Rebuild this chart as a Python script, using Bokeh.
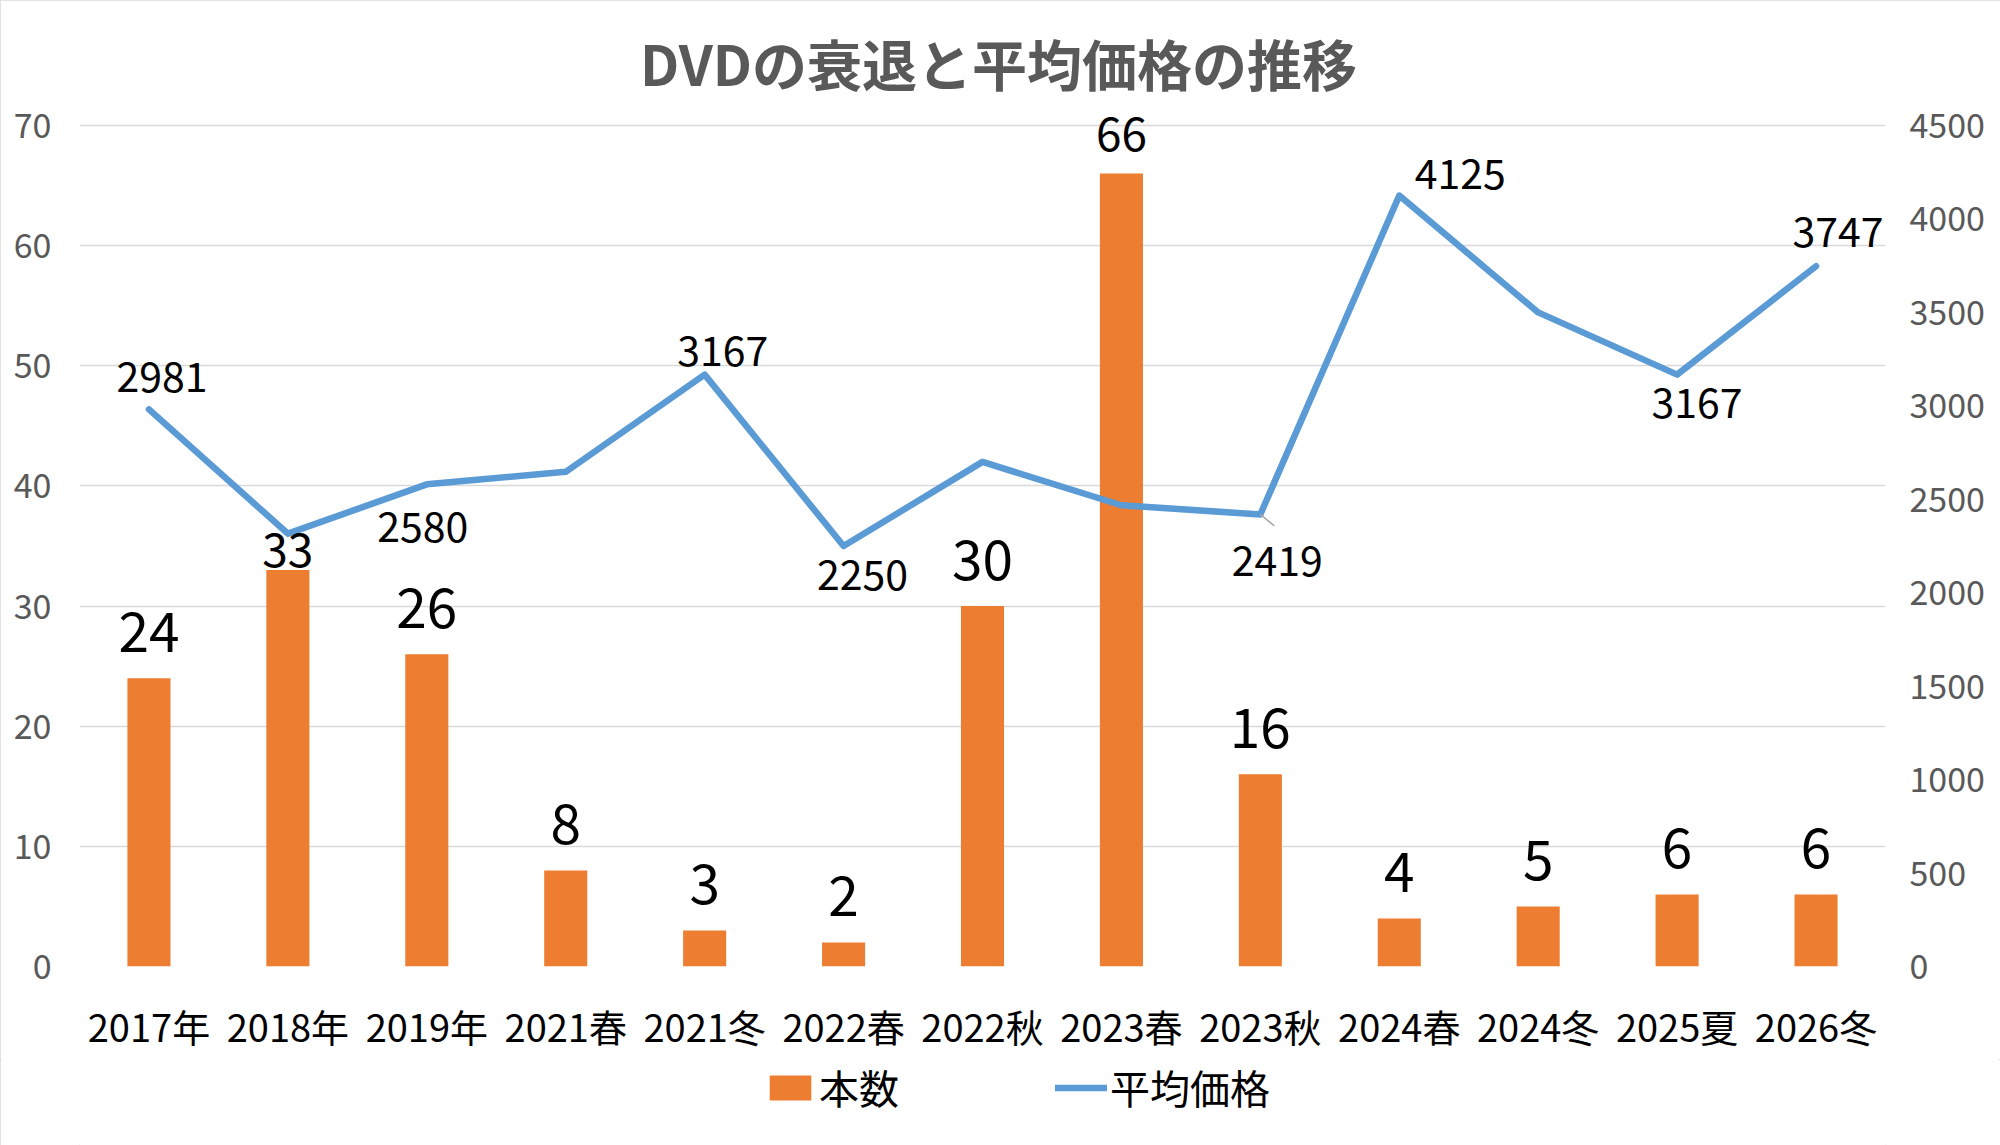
from bokeh.plotting import figure
from bokeh.layouts import column
from bokeh.models import (Range1d, LinearAxis, FactorRange, ColumnDataSource, LabelSet,
                          Legend, LegendItem, FixedTicker)
from bokeh.transform import dodge
from bokeh.core.properties import value
from bokeh.embed import file_html
from bokeh.resources import INLINE

# ---- data ----
categories = ["2017年", "2018年", "2019年", "2021春", "2021冬", "2022春", "2022秋",
              "2023春", "2023秋", "2024春", "2024冬", "2025夏", "2026冬"]
counts = [24, 33, 26, 8, 3, 2, 30, 66, 16, 4, 5, 6, 6]
prices = [2981, 2316, 2580, 2647, 3167, 2250, 2700, 2468, 2419, 4125, 3500, 3167, 3747]
left_ticks = [0, 10, 20, 30, 40, 50, 60, 70]
right_ticks = [0, 500, 1000, 1500, 2000, 2500, 3000, 3500, 4000, 4500]
left_max, right_max = 70, 4500
title_text = "DVDの衰退と平均価格の推移"
series_names = ["本数", "平均価格"]
# price points that carry a data label
price_labelled = ["2017年", "2019年", "2021冬", "2022春", "2023秋", "2024春", "2025夏", "2026冬"]

# ---- label styling (pixel offsets) ----
bar_label_dy = {"2018年": 20, "2023春": 40}
bar_label_size = {"2018年": "46px", "2023春": "46px"}
price_label_dx = {"2017年": 13, "2019年": -4, "2021冬": 18, "2022春": 19, "2023秋": 17,
                  "2024春": 61, "2025夏": 20, "2026冬": 22}
price_label_dy = {"2017年": 32, "2019年": -43, "2021冬": 24, "2022春": -29, "2023秋": -47,
                  "2024春": 22, "2025夏": -28, "2026冬": 34}

FONT = "Noto Sans CJK JP"
ORANGE = "#ED7D31"
BLUE = "#5B9BD5"
GRAY = "#595959"

# geometry: value axis 0..70 spans 841 px; frame extended 105 px above the top gridline
# so that the title and the tallest label are not clipped
head = 1.0 + 105.0 / 841.0
p = figure(width=2000, height=1059,
           x_range=FactorRange(factors=categories, range_padding=0),
           y_range=Range1d(0, left_max * head),
           output_backend="svg", toolbar_location=None,
           min_border_left=79, min_border_right=115, min_border_top=20, min_border_bottom=93)
p.extra_y_ranges = {"price": Range1d(0, right_max * head)}
p.outline_line_color = None
p.background_fill_color = "white"
p.border_fill_color = "white"

p.xgrid.grid_line_color = None
p.ygrid.grid_line_color = "#D9D9D9"
p.ygrid.grid_line_width = 1.5


def style_axis(ax, standoff, size, color):
    ax.axis_line_color = None
    ax.major_tick_line_color = None
    ax.minor_tick_line_color = None
    ax.major_tick_out = 0
    ax.major_tick_in = 0
    ax.minor_tick_out = 0
    ax.minor_tick_in = 0
    ax.major_label_standoff = standoff
    ax.major_label_text_font = FONT
    ax.major_label_text_font_size = size
    ax.major_label_text_color = color


la = p.yaxis[0]
la.ticker = FixedTicker(ticks=left_ticks)
style_axis(la, 28, "34px", GRAY)

ra = LinearAxis(y_range_name="price", ticker=FixedTicker(ticks=right_ticks))
style_axis(ra, 24, "34px", GRAY)
p.add_layout(ra, "right")

style_axis(p.xaxis[0], 31, "38px", "#000000")

src = ColumnDataSource(dict(
    cat=categories,
    count=counts,
    price=prices,
    count_txt=[str(c) for c in counts],
    bar_dy=[bar_label_dy.get(c, 46) for c in categories],
    bar_size=[bar_label_size.get(c, "55px") for c in categories],
))

bar_style = dict(fill_color=ORANGE, line_color=None)
line_style = dict(line_color=BLUE, line_width=6.5, line_join="round", line_cap="round")

p.vbar(x="cat", top="count", width=0.31, source=src, **bar_style)
p.line(x="cat", y="price", source=src, y_range_name="price", **line_style)

p.add_layout(LabelSet(x="cat", y="count", text="count_txt", source=src,
                      y_offset="bar_dy", text_align="center", text_baseline="middle",
                      text_font=value(FONT), text_font_size="bar_size", text_color="#000000"))

idx = [categories.index(c) for c in price_labelled]
lsrc = ColumnDataSource(dict(
    cat=price_labelled,
    price=[prices[i] for i in idx],
    txt=[str(prices[i]) for i in idx],
    dx=[price_label_dx[c] for c in price_labelled],
    dy=[price_label_dy[c] for c in price_labelled],
))
p.add_layout(LabelSet(x="cat", y="price", text="txt", source=lsrc, y_range_name="price",
                      x_offset="dx", y_offset="dy", text_align="center", text_baseline="middle",
                      text_font=value(FONT), text_font_size="41px", text_color="#000000"))

# small leader line for the 2419 label
ksrc = ColumnDataSource(dict(cat=["2023秋"], price=[prices[categories.index("2023秋")]]))
p.segment(x0="cat", y0="price", x1=dodge("cat", 0.1, range=p.x_range), y1=dodge("price", -61),
          source=ksrc, y_range_name="price", line_color="#A6A6A6", line_width=1.5)

# title (inside the extended head room of the frame)
tsrc = ColumnDataSource(dict(cat=[categories[6]], y=[left_max], txt=[title_text]))
p.add_layout(LabelSet(x="cat", y="y", text="txt", source=tsrc, x_offset=16, y_offset=64,
                      text_align="center", text_baseline="middle", text_font=value(FONT),
                      text_font_size="55px", text_font_style="bold", text_color=GRAY))

# ---- legend strip below the chart (swatch renderers sit outside its visible range) ----
lp = figure(width=2000, height=86, output_backend="svg", toolbar_location=None,
            x_axis_type=None, y_axis_type=None, min_border=0,
            x_range=FactorRange(factors=categories, range_padding=0),
            y_range=Range1d(100000, 100001))
lp.outline_line_color = None
lp.background_fill_color = "white"
lp.border_fill_color = "white"
lbar = lp.vbar(x=categories, top=counts, width=0.31, **bar_style)
lline = lp.line(x=categories, y=prices, **line_style)
legend = Legend(items=[LegendItem(label=series_names[0], renderers=[lbar]),
                       LegendItem(label=series_names[1], renderers=[lline])],
                orientation="horizontal", location=(685, 29),
                glyph_width=52, glyph_height=31, label_standoff=3, spacing=156,
                padding=0, margin=0, border_line_color=None, background_fill_alpha=0,
                label_text_font=FONT, label_text_font_size="40px", label_text_color="#000000")
lp.add_layout(legend, "center")

layout = column(p, lp, spacing=0,
                styles={"outline": "2px solid #D9D9D9", "outline-offset": "-2px"})

open("out.html", "w").write(file_html(layout, INLINE))
